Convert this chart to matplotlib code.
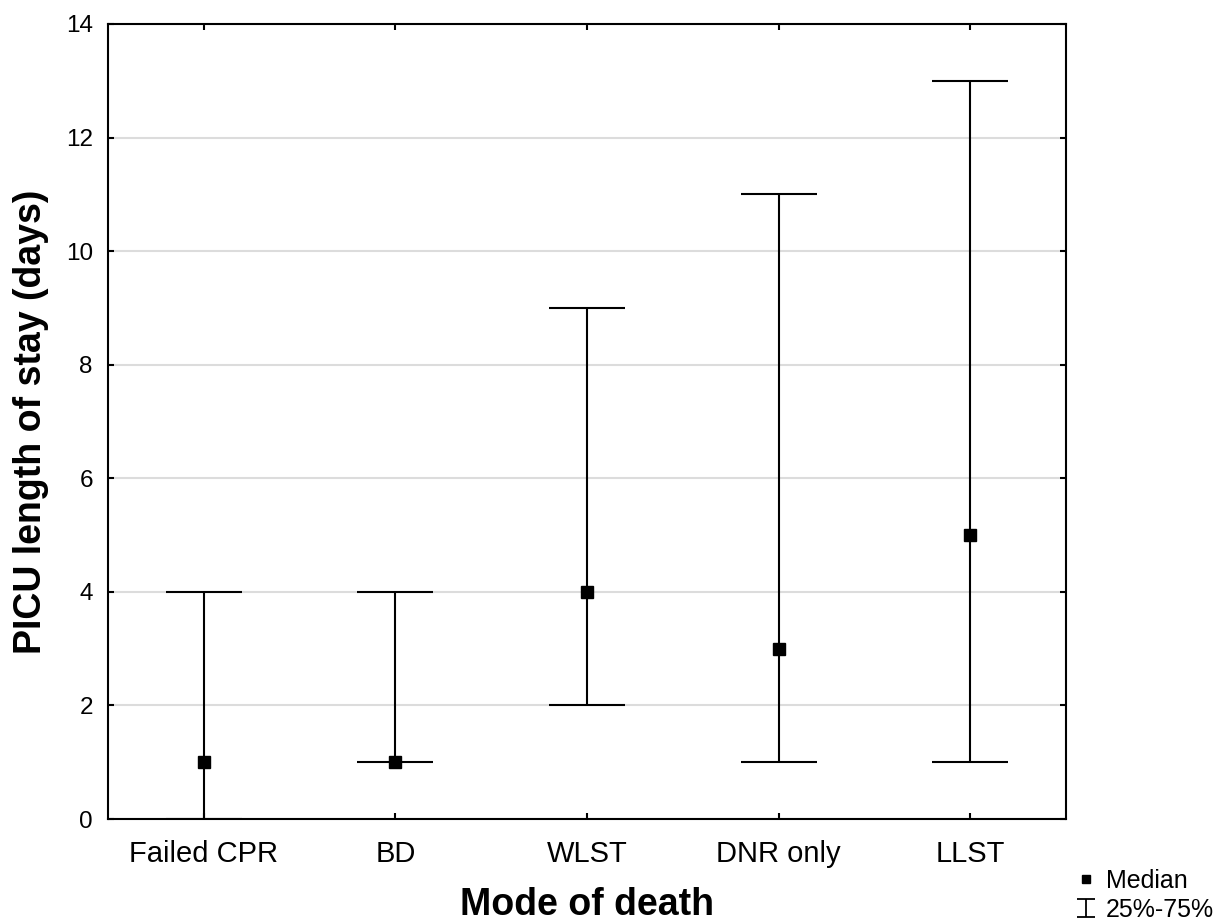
import numpy as np
import matplotlib.pyplot as plt
from matplotlib.path import Path
from matplotlib.lines import Line2D

modes = ['Failed CPR', 'BD', 'WLST', 'DNR only', 'LLST']
median = [1, 1, 4, 3, 5]
q25 = [0, 1, 2, 1, 1]
q75 = [4, 4, 9, 11, 13]
y_ticks = [0, 2, 4, 6, 8, 10, 12, 14]

plt.rcParams['font.family'] = ['Liberation Sans', 'DejaVu Sans']

fig = plt.figure(figsize=(12.18, 9.22), dpi=100)
ax = fig.add_axes([0.0887, 0.1117, 0.7865, 0.8623])

x = np.arange(len(modes))
med = np.array(median)
err = [med - np.array(q25), np.array(q75) - med]

ax.errorbar(x, med, yerr=err, fmt='none', ecolor='black', elinewidth=1.5,
            capsize=27.7, capthick=1.5, zorder=3)
ax.plot(x, med, 's', color='black', markersize=8, zorder=4)

ax.set_xlim(-0.5, 4.5)
ax.set_ylim(0, 14)
ax.set_yticks(y_ticks)
ax.set_xticks(x)
ax.set_xticklabels(modes, fontsize=21)
for lab in ax.get_yticklabels():
    lab.set_fontsize(17.5)

ax.yaxis.grid(True, color='#dcdcdc', linewidth=1.5, zorder=0)
ax.set_axisbelow(True)
ax.tick_params(direction='in', length=4, width=1.5, top=True, right=True)
ax.tick_params(axis='x', pad=15)
ax.tick_params(axis='y', pad=11)
for s in ax.spines.values():
    s.set_linewidth(1.5)

ax.set_xlabel('Mode of death', fontsize=27, fontweight='bold', labelpad=14)
ax.set_ylabel('PICU length of stay (days)', fontsize=27, fontweight='bold', labelpad=12)

# I-beam symbol for the quartile range
ibeam = Path([(-0.5, 0.5), (0.5, 0.5), (0, 0.5), (0, -0.5), (-0.5, -0.5), (0.5, -0.5)],
             [Path.MOVETO, Path.LINETO, Path.MOVETO, Path.LINETO, Path.MOVETO, Path.LINETO])
handles = [
    Line2D([], [], ls='none', marker='s', color='black', markersize=6),
    Line2D([], [], ls='none', marker=ibeam, color='black', markersize=13,
           markerfacecolor='none', markeredgewidth=1.3),
]
fig.legend(handles, ['Median', '25%-75%'], loc='lower right',
           bbox_to_anchor=(0.997, 0.0), frameon=False, fontsize=18,
           handlelength=0.8, handletextpad=0.4, labelspacing=0.2,
           borderpad=0.0, borderaxespad=0.0)

fig.savefig('out.png', dpi=100)
